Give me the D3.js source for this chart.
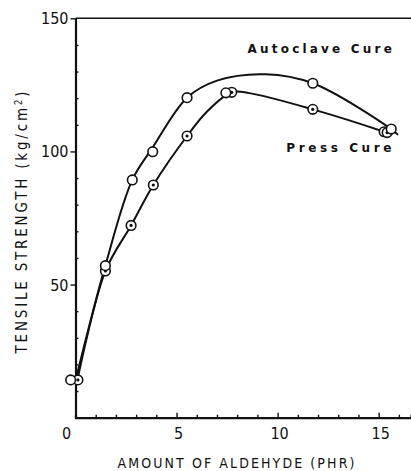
<!DOCTYPE html>
<html>
<head>
<meta charset="utf-8">
<script src="https://cdn.jsdelivr.net/npm/d3@7"></script>
<style>
  html, body { margin: 0; padding: 0; background: #fff; }
  svg { display: block; }
  text { fill: #111; }
</style>
</head>
<body>
<script>
// Tensile strength vs. amount of aldehyde, two cure methods
// measured points
const autoclaveX = [-0.24, 1.48, 2.81, 3.82, 5.52, 11.74, 15.62];
const autoclaveY = [14.2, 57.1, 89.3, 99.9, 120.2, 125.6, 108.4];
const pressX = [0.12, 1.48, 2.75, 3.85, 5.52, 7.73, 11.74, 15.27];
const pressY = [14.2, 55.1, 72.2, 87.4, 105.8, 122.2, 115.8, 107.4];
// repeat press-cure readings
const pressRepeatOpenX = [7.44];
const pressRepeatOpenY = [122.0];
const pressRepeatDotX = [15.42];
const pressRepeatDotY = [107.1];
// hand-faired trend curves through the measurements
const autoclaveFitX = [0.02, 1.48, 2.81, 3.82, 5.52, 7.0, 9.4, 11.74, 15.62, 15.96];
const autoclaveFitY = [14.5, 57.2, 89.3, 101.5, 120.2, 126.6, 129.0, 125.6, 108.4, 106.2];
const pressFitX = [0.1, 1.48, 2.75, 3.85, 5.52, 6.5, 7.73, 8.6, 11.74, 15.27, 15.6];
const pressFitY = [14.3, 55.1, 72.2, 87.4, 105.8, 114.9, 122.2, 121.9, 115.8, 107.4, 106.5];

const xTicks = [0, 5, 10, 15];
const yTicks = [50, 100, 150];
const seriesLabels = ["Autoclave Cure", "Press Cure"];

const W = 411, H = 471;
const x = d3.scaleLinear().domain([0, 16.6]).range([75.5, 411]);
const y = d3.scaleLinear().domain([0, 150]).range([417.7, 18.3]);

const svg = d3.select("body").append("svg").attr("width", W).attr("height", H);
const ink = "#111";
const numFont = "16px 'DejaVu Sans Condensed', 'DejaVu Sans', sans-serif";
const titleFont = "'DejaVu Sans Condensed', 'DejaVu Sans', sans-serif";

// frame: top line
svg.append("line").attr("x1", x(0)).attr("x2", W).attr("y1", y(150)).attr("y2", y(150))
  .attr("stroke", ink).attr("stroke-width", 1.6);

// x axis (ticks inward)
const xAxis = d3.axisBottom(x).tickValues(d3.range(0, 17, 1)).tickSize(-3).tickFormat("");
const gx = svg.append("g").attr("transform", `translate(0,${y(0)})`).call(xAxis);
gx.select(".domain").attr("stroke", ink).attr("stroke-width", 2.2);
gx.selectAll(".tick line").attr("stroke", ink).attr("stroke-width", 1.4)
  .attr("y2", d => xTicks.includes(d) ? -5 : -3);
svg.append("g").selectAll("text").data(xTicks).join("text")
  .attr("x", d => x(d) + (d === 0 ? -9 : 2)).attr("y", 439)
  .attr("text-anchor", "middle")
  .style("font", numFont)
  .text(d => d);

// y axis: minor ticks inward, major ticks outward
const yAxis = d3.axisLeft(y).tickValues(d3.range(0, 151, 10)).tickSize(0).tickFormat("");
const gy = svg.append("g").attr("transform", `translate(${x(0)},0)`).call(yAxis);
gy.select(".domain").attr("stroke", ink).attr("stroke-width", 2.2);
gy.selectAll(".tick line").attr("stroke", ink).attr("stroke-width", 1.4)
  .attr("x2", d => yTicks.includes(d) ? -5 : (d === 0 ? 0 : 3));
svg.append("g").selectAll("text").data(yTicks).join("text")
  .attr("x", x(0) - 7).attr("y", d => y(d) + 6)
  .attr("text-anchor", "end")
  .style("font", numFont)
  .text(d => d);

// axis titles
svg.append("text").attr("x", 237).attr("y", 468).attr("text-anchor", "middle")
  .style("font", "14px " + titleFont)
  .style("letter-spacing", "2.1px")
  .text("AMOUNT OF ALDEHYDE (PHR)");
const yt = svg.append("text").attr("transform", "translate(27,221) rotate(-90)")
  .attr("text-anchor", "middle")
  .style("font", "15px " + titleFont)
  .style("letter-spacing", "2.8px");
yt.append("tspan").text("TENSILE STRENGTH (kg/cm");
yt.append("tspan").attr("dy", -5).style("font-size", "10px").text("2");
yt.append("tspan").attr("dy", 5).text(")");

// trend curves
const line = d3.line().x(d => x(d[0])).y(d => y(d[1])).curve(d3.curveCatmullRom.alpha(0.5));
svg.append("path").attr("d", line(d3.zip(autoclaveFitX, autoclaveFitY))).attr("fill", "none")
  .attr("stroke", ink).attr("stroke-width", 2);
svg.append("path").attr("d", line(d3.zip(pressFitX, pressFitY))).attr("fill", "none")
  .attr("stroke", ink).attr("stroke-width", 2);

// markers
const r = 4.8;
function openMarks(pts) {
  svg.append("g").selectAll("circle").data(pts).join("circle")
    .attr("cx", d => x(d[0])).attr("cy", d => y(d[1])).attr("r", r)
    .attr("fill", "#fff").attr("stroke", ink).attr("stroke-width", 1.6);
}
function dotMarks(pts) {
  openMarks(pts);
  svg.append("g").selectAll("circle").data(pts).join("circle")
    .attr("cx", d => x(d[0])).attr("cy", d => y(d[1])).attr("r", 1.6).attr("fill", ink);
}
dotMarks(d3.zip(pressX, pressY));
dotMarks(d3.zip(pressRepeatDotX, pressRepeatDotY));
openMarks(d3.zip(pressRepeatOpenX, pressRepeatOpenY));
openMarks(d3.zip(autoclaveX, autoclaveY));

// series labels
svg.append("text").attr("x", 395).attr("y", 53).attr("text-anchor", "end")
  .style("font", "bold 12px 'DejaVu Sans', sans-serif").style("letter-spacing", "3.2px")
  .text(seriesLabels[0]);
svg.append("text").attr("x", 395).attr("y", 152).attr("text-anchor", "end")
  .style("font", "bold 12px 'DejaVu Sans', sans-serif").style("letter-spacing", "3.6px")
  .text(seriesLabels[1]);
</script>
</body>
</html>
